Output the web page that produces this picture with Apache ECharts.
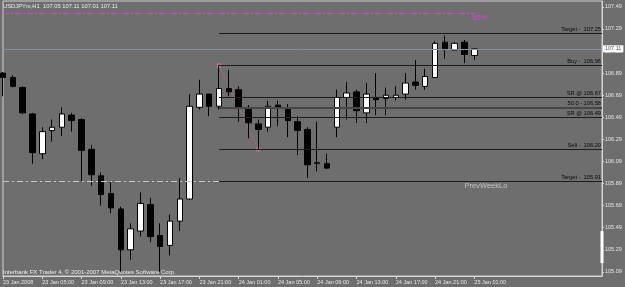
<!DOCTYPE html>
<html><head><meta charset="utf-8">
<script src="https://cdn.jsdelivr.net/npm/echarts@6/dist/echarts.min.js"></script>
<style>html,body{margin:0;padding:0;background:#6e6e6e;}#c{width:625px;height:287px;}</style>
</head><body><div id="c"></div>
<script>
// ---- data ----
const candleOpen  = [106.89,106.85,106.76,106.52,106.16,106.37,106.40,106.51,106.47,106.20,105.96,105.80,105.66,105.29,105.46,105.70,105.42,105.33,105.55,105.75,106.58,106.70,106.59,106.75,106.74,106.56,106.43,106.40,106.60,106.56,106.45,106.38,106.07,106.07,106.40,106.67,106.72,106.53,106.67,106.66,106.67,106.70,106.81,106.77,106.85,107.17,107.10,107.17,107.05];
const candleClose = [106.85,106.77,106.53,106.17,106.36,106.40,106.52,106.46,106.19,105.97,105.79,105.67,105.29,105.48,105.71,105.41,105.32,105.55,105.75,106.59,106.70,106.59,106.75,106.72,106.57,106.44,106.38,106.59,106.57,106.46,106.37,106.06,106.08,106.03,106.67,106.71,106.55,106.70,106.65,106.69,106.69,106.80,106.78,106.86,107.16,107.11,107.16,107.06,107.11];
const candleLow   = [106.68,106.76,106.52,106.07,106.11,106.27,106.32,106.36,105.91,105.87,105.69,105.62,105.09,105.20,105.41,105.36,105.09,105.24,105.46,105.74,106.56,106.50,106.56,106.68,106.45,106.30,106.20,106.36,106.41,106.31,106.15,105.94,106.00,106.02,106.31,106.47,106.44,106.44,106.51,106.51,106.64,106.65,106.74,106.74,106.85,107.02,107.10,106.98,107.01];
const candleHigh  = [106.90,106.87,106.77,106.53,106.40,106.47,106.58,106.53,106.48,106.24,105.99,105.91,105.68,105.53,105.81,105.76,105.53,105.61,105.94,106.70,106.83,106.70,106.96,106.92,106.77,106.60,106.47,106.64,106.64,106.61,106.50,106.40,106.45,106.16,106.74,106.81,106.74,106.80,106.89,106.76,106.77,106.89,107.01,106.93,107.18,107.23,107.17,107.19,107.11];

const xTickLabels = ['23 Jan 2008','23 Jan 05:00','23 Jan 09:00','23 Jan 13:00','23 Jan 17:00','23 Jan 21:00','24 Jan 01:00','24 Jan 05:00','24 Jan 09:00','24 Jan 13:00','24 Jan 17:00','24 Jan 21:00','25 Jan 01:00'];
const yTickLabels = ['105.09','105.29','105.49','105.69','105.89','106.09','106.29','106.49','106.69','106.89','107.09','107.29','107.49'];

const levelValues = [107.25, 106.96, 106.67, 106.58, 106.49, 106.20, 105.91];
const levelNames  = ['Target -  ', 'Buy -  ', 'SR @ ', '50.0 - ', 'SR @ ', 'Sell -  ', 'Target -  '];
const levelStartBar = 22;
const fibPoints = [[22, 106.96], [24, 106.58], [26, 106.20]];
const bidPrice = 107.11;
const halfLevel = 107.43;       // "50%" line
const prevWeekLo = 105.91;
const scrollMarkRange = [105.17, 105.46];
const headerText = 'USDJPYm,H1  107.05 107.11 107.01 107.11';
const footerText = 'Interbank FX Trader 4, \u00A9 2001-2007 MetaQuotes Software Corp.';

// ---- build ----
const nSlots = 62; // hourly slots incl. right-side chart shift
const categories = [];
for (let i = 0; i < nSlots; i++) {
  const h = 1 + i;
  const d = 23 + Math.floor(h / 24);
  const hh = h % 24;
  categories.push(d + ' Jan ' + (hh < 10 ? '0' : '') + hh + ':00');
}
const lastBar = candleOpen.length - 1;
const candleData = candleOpen.map((o, i) => [o, candleClose[i], candleLow[i], candleHigh[i]]);
const yTickValues = yTickLabels.map(Number);
const isTick = (i) => i % 4 === 0 && i / 4 < xTickLabels.length;
const FONT = 'Liberation Sans';

const levelLines = levelValues.map((v, k) => [
  {coord: [levelStartBar, v], label: {show: true, formatter: levelNames[k] + v.toFixed(2)},
   lineStyle: k === 3 ? {color: '#474747', width: 2, type: 'solid'} : {color: '#1c1c1c', width: 1, type: 'solid'}},
  {coord: [nSlots - 1, v]}
]);

const chart = echarts.init(document.getElementById('c'), null, {renderer: 'canvas'});
chart.setOption({
  backgroundColor: '#6e6e6e',
  animation: false,
  title: [
    {text: headerText, left: 3, top: 3, padding: 0, textStyle: {color: '#ececec', fontSize: 5.8, fontWeight: 'normal', fontFamily: FONT}},
    {text: footerText, left: 3, top: 269, padding: 0, textStyle: {color: '#f0f0f0', fontSize: 6, fontWeight: 'normal', fontFamily: FONT}}
  ],
  grid: {left: 2, top: 1, width: 600, height: 275, show: true, borderColor: '#cfcfcf', borderWidth: 1},
  xAxis: {
    type: 'category', data: categories, boundaryGap: false,
    axisLine: {lineStyle: {color: '#d6d6d6'}},
    axisTick: {interval: (i) => isTick(i), length: 3, lineStyle: {color: '#d6d6d6'}},
    axisLabel: {interval: (i) => isTick(i), formatter: (v, i) => xTickLabels[i / 4] || '', align: 'left',
      color: '#e6e6e6', fontSize: 5.5, margin: 3, fontFamily: FONT},
    splitLine: {show: false}
  },
  yAxis: {
    type: 'value', position: 'right', min: 105.053, max: 107.543, scale: true,
    splitLine: {show: false},
    axisLine: {show: true, lineStyle: {color: '#d6d6d6'}},
    axisTick: {show: true, customValues: yTickValues, length: 2, lineStyle: {color: '#d6d6d6'}},
    axisLabel: {customValues: yTickValues, formatter: (v) => v.toFixed(2), color: '#e6e6e6', fontSize: 5.5, margin: 3, fontFamily: FONT}
  },
  series: [
    {
      type: 'line', name: 'half', data: [[0, halfLevel], [lastBar, halfLevel]], z: 5, silent: true,
      showSymbol: false, symbol: 'none', clip: false,
      lineStyle: {color: '#d844dc', width: 1, type: [6, 2, 2, 2]}
    },
    {
      type: 'line', name: 'edge', data: [[nSlots - 1, scrollMarkRange[0]], [nSlots - 1, scrollMarkRange[1]]], z: 4, silent: true,
      showSymbol: false, symbol: 'none', clip: false,
      lineStyle: {color: '#ffffff', width: 3}
    },
    {
      type: 'line', name: 'objects', data: [], z: 1, silent: true,
      markLine: {
        silent: true, symbol: ['none', 'none'], animation: false,
        label: {show: false, position: 'insideEndTop', color: '#0a0a0a', fontSize: 5.7, fontFamily: FONT, distance: 1},
        emphasis: {disabled: true},
        data: [
          [{coord: [0, prevWeekLo], lineStyle: {color: '#c8c8c8', width: 1, type: [6, 3, 2, 3]}}, {coord: [levelStartBar, prevWeekLo]}],
          [{coord: [0, bidPrice], lineStyle: {color: '#8292a4', width: 1, type: 'solid'},
            label: {show: true, position: 'end', formatter: bidPrice.toFixed(2), backgroundColor: '#ffffff', color: '#5a5a5a',
              fontSize: 5.5, fontFamily: FONT, padding: [1, 2, 0, 2], distance: 1}},
           {coord: [nSlots - 1, bidPrice]}],
          ...levelLines
        ]
      },
      markPoint: {
        silent: true, symbol: 'rect', symbolSize: 0, animation: false,
        data: [
          {coord: [47, prevWeekLo], label: {show: true, formatter: 'PrevWeekLo', position: [0, 1], align: 'left', verticalAlign: 'top', color: '#c4c4c4', fontSize: 7.5, fontFamily: FONT}},
          {coord: [48, halfLevel], label: {show: true, formatter: '50%', position: [-2, 0], align: 'left', verticalAlign: 'top', color: '#e040e8', fontSize: 7.5, fontFamily: FONT}}
        ]
      }
    },
    {
      type: 'line', name: 'fib', data: fibPoints, z: 2, silent: true,
      symbol: 'rect', symbolSize: 3,
      itemStyle: {color: '#6e6e6e', borderColor: '#e07a94', borderWidth: 1},
      lineStyle: {color: '#d9607e', width: 1, type: 'dotted'}
    },
    {
      type: 'candlestick', name: 'USDJPYm', data: candleData, z: 3, barWidth: 6, clip: true,
      itemStyle: {color: '#ffffff', color0: '#000000', borderColor: '#000000', borderColor0: '#000000', borderWidth: 1}
    }
  ]
});
</script></body></html>
